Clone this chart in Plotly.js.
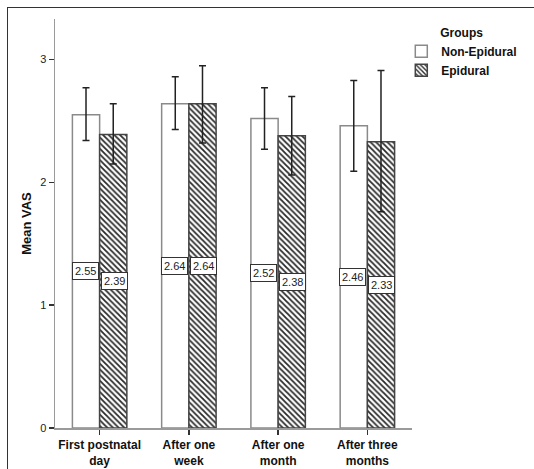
<!DOCTYPE html>
<html>
<head>
<meta charset="utf-8">
<script src="https://cdn.plot.ly/plotly-3.0.1.min.js"></script>
<style>
  html, body { margin: 0; padding: 0; background: #ffffff; }
  #wrap { position: relative; width: 534px; height: 469px; overflow: hidden; }
  #chart { width: 534px; height: 469px; }
  #frame { position: absolute; left: 7px; top: 7px; width: 540px; height: 480px;
           border-left: 1.5px solid #333333; border-top: 1.5px solid #333333; pointer-events: none; }
</style>
</head>
<body>
<div id="wrap">
<div id="chart"></div>
<div id="frame"></div>
</div>
<script>
// ---- Data ----
var categories = ["First postnatal day", "After one week", "After one month", "After three months"];
var tickLabels = ["First postnatal<br>day", "After one<br>week", "After one<br>month", "After three<br>months"];
var groupNames = ["Non-Epidural", "Epidural"];
var nonEpiduralMean = [2.55, 2.64, 2.52, 2.46];
var epiduralMean    = [2.39, 2.64, 2.38, 2.33];
var nonEpiduralUpper = [2.77, 2.86, 2.77, 2.83];
var nonEpiduralLower = [2.34, 2.43, 2.27, 2.09];
var epiduralUpper    = [2.64, 2.95, 2.70, 2.91];
var epiduralLower    = [2.15, 2.32, 2.06, 1.76];

function diff(a, b) { return a.map(function (v, i) { return +(v - b[i]).toFixed(3); }); }

var FONT = "Liberation Sans, Arial, sans-serif";

var traceNon = {
  type: "bar",
  name: groupNames[0],
  x: categories,
  y: nonEpiduralMean,
  marker: { color: "#ffffff", line: { color: "#8a8a8a", width: 1.5 } },
  error_y: {
    type: "data", symmetric: false,
    array: diff(nonEpiduralUpper, nonEpiduralMean),
    arrayminus: diff(nonEpiduralMean, nonEpiduralLower),
    color: "#222222", thickness: 1.5, width: 3.5
  },
  hoverinfo: "none"
};

var traceEpi = {
  type: "bar",
  name: groupNames[1],
  x: categories,
  y: epiduralMean,
  marker: {
    color: "#ffffff",
    line: { color: "#444444", width: 1.5 },
    pattern: { shape: "\\", fgcolor: "#2a2a2a", bgcolor: "#ffffff", size: 4, solidity: 0.45 }
  },
  error_y: {
    type: "data", symmetric: false,
    array: diff(epiduralUpper, epiduralMean),
    arrayminus: diff(epiduralMean, epiduralLower),
    color: "#222222", thickness: 1.5, width: 3.5
  },
  hoverinfo: "none"
};

var annotations = [];
function addLabels(vals, shift) {
  vals.forEach(function (v, i) {
    annotations.push({
      x: categories[i], y: v / 2, xref: "x", yref: "y",
      xshift: shift,
      text: v.toFixed(2), showarrow: false,
      font: { family: FONT, size: 11, color: "#222222" },
      bgcolor: "#ffffff", bordercolor: "#333333", borderwidth: 1, borderpad: 2
    });
  });
}
addLabels(nonEpiduralMean, -14.5);
addLabels(epiduralMean, 14.5);

var layout = {
  width: 534, height: 469,
  margin: { l: 55, r: 99, t: 19, b: 41 },
  paper_bgcolor: "#ffffff", plot_bgcolor: "#ffffff",
  font: { family: FONT, size: 11, color: "#222222" },
  barmode: "group",
  bargap: 0.39,
  bargroupgap: 0,
  showlegend: true,
  legend: {
    x: 0.97, xanchor: "left", y: 0.995, yanchor: "top",
    bgcolor: "rgba(0,0,0,0)",
    font: { family: FONT, size: 12, color: "#111111", weight: "bold" },
    title: { text: "Groups", side: "top center", font: { family: FONT, size: 12, color: "#111111", weight: "bold" } },
    itemwidth: 30,
    tracegroupgap: 0
  },
  xaxis: {
    type: "category",
    tickvals: categories, ticktext: tickLabels,
    range: [-0.5, 3.5],
    showline: true, linecolor: "#9a9a9a", linewidth: 1.5,
    ticks: "outside", ticklen: 5, tickcolor: "#333333", tickwidth: 1.5,
    tickfont: { family: FONT, size: 12, color: "#111111", weight: "bold" },
    showgrid: false, zeroline: false, automargin: false
  },
  yaxis: {
    range: [0, 3.33],
    tickvals: [0, 1, 2, 3],
    showline: true, linecolor: "#9a9a9a", linewidth: 1.5,
    ticks: "outside", ticklen: 5, tickcolor: "#333333", tickwidth: 1.5,
    tickfont: { family: FONT, size: 11, color: "#222222" },
    showgrid: false, zeroline: false, automargin: false,
    title: { text: "Mean VAS", standoff: 5, font: { family: FONT, size: 13, color: "#111111", weight: "bold" } }
  },
  annotations: annotations
};

Plotly.newPlot("chart", [traceNon, traceEpi], layout, { displayModeBar: false, staticPlot: true });
</script>
</body>
</html>
